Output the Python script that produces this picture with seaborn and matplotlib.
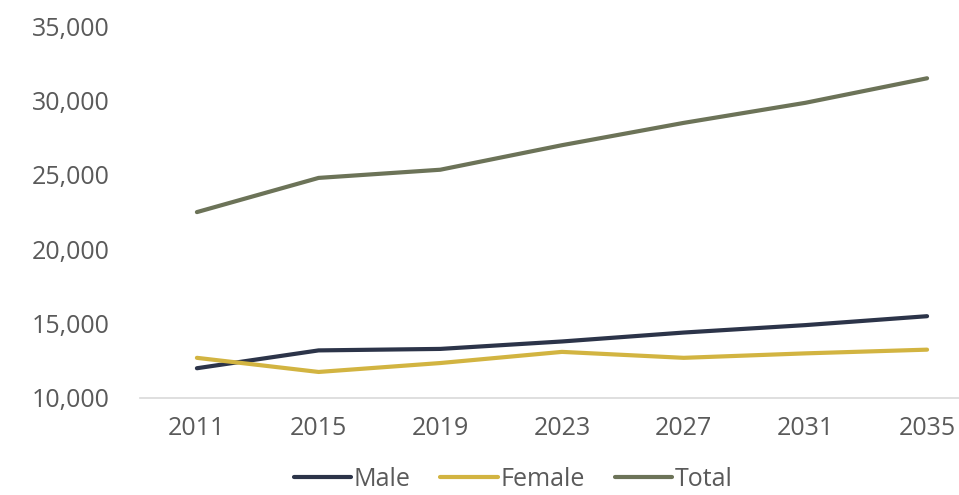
import matplotlib
matplotlib.use("Agg")
import matplotlib.pyplot as plt
import seaborn as sns
import pandas as pd

years = [2011, 2015, 2019, 2023, 2027, 2031, 2035]
male = [12000, 13200, 13300, 13800, 14400, 14900, 15500]
female = [12700, 11750, 12350, 13100, 12700, 13000, 13250]
total = [22500, 24800, 25350, 27000, 28500, 29850, 31500]
y_ticks = [10000, 15000, 20000, 25000, 30000, 35000]

series_names = ["Male", "Female", "Total"]
colors = {"Male": "#2c3449", "Female": "#d2b441", "Total": "#6c7358"}

df = pd.DataFrame({
    "Year": years * 3,
    "Value": male + female + total,
    "Series": ["Male"] * len(years) + ["Female"] * len(years) + ["Total"] * len(years),
})

sns.set_theme(style="white")
plt.rcParams["font.family"] = ["Open Sans", "DejaVu Sans"]

fig = plt.figure(figsize=(9.59, 4.95), dpi=100)
ax = fig.add_axes([0.146, 0.196, 0.854, 0.751])

sns.lineplot(data=df, x="Year", y="Value", hue="Series", hue_order=series_names,
             palette=colors, linewidth=3.0, ax=ax, legend=False)

ax.set_xlim(2009.13, 2036.05)
ax.set_ylim(10000, 35000)
ax.set_xticks(years)
ax.set_xticklabels([str(y) for y in years])
ax.set_yticks(y_ticks)
ax.set_yticklabels([f"{v:,}" for v in y_ticks])
ax.tick_params(axis="y", length=0, pad=22, labelsize=18, labelcolor="#5a5a5a")
ax.tick_params(axis="x", length=0, pad=13, labelsize=18, labelcolor="#5a5a5a")
ax.set_xlabel("")
ax.set_ylabel("")

for side in ["top", "right", "left"]:
    ax.spines[side].set_visible(False)
ax.spines["bottom"].set_color("#d9d9d9")
ax.spines["bottom"].set_linewidth(1.2)

handles = [plt.Line2D([], [], color=colors[s], linewidth=3.0) for s in series_names]
fig.legend(handles, series_names, loc="center", bbox_to_anchor=(0.535, 0.032),
           ncol=3, frameon=False, fontsize=18, handlelength=2.3,
           handletextpad=0.1, columnspacing=1.2, labelcolor="#5a5a5a",
           borderpad=0.1)

fig.savefig("out.png", dpi=100, facecolor="white")
